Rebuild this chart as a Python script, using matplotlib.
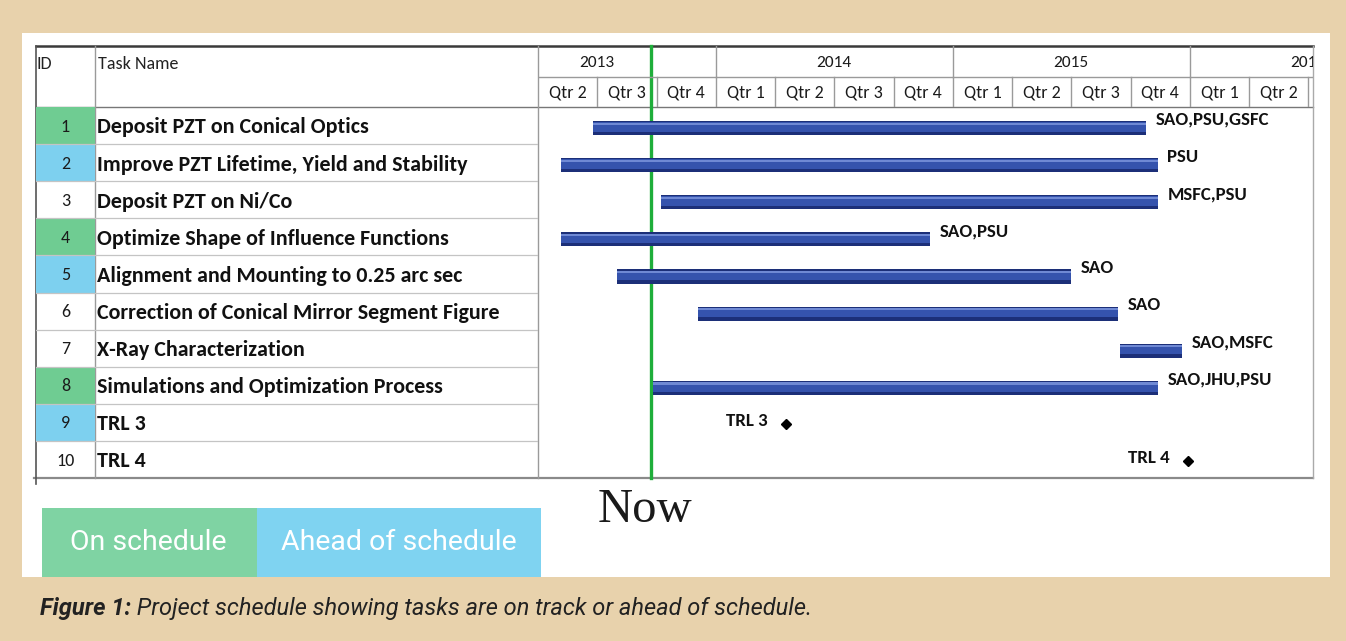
import matplotlib
matplotlib.use("Agg")
import matplotlib.pyplot as plt
import matplotlib.transforms as mtransforms
from matplotlib.patches import Rectangle

# schedule data (fractional years)
task_ids = list(range(1, 11))
task_names = [
    "Deposit PZT on Conical Optics",
    "Improve PZT Lifetime, Yield and Stability",
    "Deposit PZT on Ni/Co",
    "Optimize Shape of Influence Functions",
    "Alignment and Mounting to 0.25 arc sec",
    "Correction of Conical Mirror Segment Figure",
    "X-Ray Characterization",
    "Simulations and Optimization Process",
    "TRL 3",
    "TRL 4",
]
status = ["on", "ahead", None, "on", "ahead", None, None, "on", "ahead", None]
bar_starts = [2013.482, 2013.347, 2013.769, 2013.347, 2013.583, 2013.925, 2015.705, 2013.735]
bar_ends = [2015.815, 2015.865, 2015.865, 2014.904, 2015.498, 2015.697, 2015.967, 2015.865]
resources = ["SAO,PSU,GSFC", "PSU", "MSFC,PSU", "SAO,PSU", "SAO", "SAO", "SAO,MSFC", "SAO,JHU,PSU"]
milestone_rows = [9, 10]
milestone_dates = [2014.296, 2015.992]
milestone_labels = ["TRL 3", "TRL 4"]
now_date = 2013.727
years = [2013, 2014, 2015, 2016]
view_start, view_end = 2013.25, 2016.52

W, H = 1346, 641
BG = "#e8d2ac"
GREEN_CELL = "#6fcc92"
BLUE_CELL = "#7dd0ef"
narrow = ["Carlito", "Lato", "DejaVu Sans"]

fig = plt.figure(figsize=(W / 100, H / 100), dpi=100)
fig.patch.set_facecolor(BG)


def px_axes(x, y, w, h):
    return fig.add_axes([x / W, 1 - (y + h) / H, w / W, h / H])


bg = px_axes(0, 0, W, H)
bg.set_xlim(0, W)
bg.set_ylim(H, 0)
bg.axis("off")
bg.add_patch(Rectangle((22, 33), 1308, 544, facecolor="white", edgecolor="none"))

top, head_mid, head_bot, bot = 46, 78, 107, 478
left, id_right, name_right, right = 36, 95, 538, 1313

# table frame
bg.plot([left, right], [top, top], color="#3a3a3a", lw=1.8)
bg.plot([left, right], [head_bot, head_bot], color="#777777", lw=1.0)
bg.plot([left - 2, right], [bot, bot], color="#8a8a8a", lw=1.6)
bg.plot([left, left], [top, bot + 6], color="#555555", lw=1.2)
for xv in (id_right, name_right):
    bg.plot([xv, xv], [top, bot], color="#9a9a9a", lw=1.0)
bg.plot([right, right], [top, bot], color="#aaaaaa", lw=1.0)
bg.text(left + 1, 64, "ID", fontsize=13, family=narrow, va="center", ha="left", color="#222222")
bg.text(id_right + 3, 64, "Task Name", fontsize=13, family=narrow, va="center", ha="left", color="#222222")

# left table rows
tb = px_axes(left, head_bot, name_right - left, bot - head_bot)
tb.set_xlim(left, name_right)
tb.set_ylim(10.5, 0.5)
tb.axis("off")
for i, name, st in zip(task_ids, task_names, status):
    if st is not None:
        tb.add_patch(Rectangle((left, i - 0.5), id_right - left, 1,
                               facecolor=GREEN_CELL if st == "on" else BLUE_CELL, edgecolor="none"))
    tb.text((left + id_right) / 2, i + 0.03, str(i), ha="center", va="center",
            fontsize=13, family=narrow, color="#1a1a1a")
    tb.text(id_right + 2, i + 0.05, name, ha="left", va="center",
            fontsize=15.8, family=narrow, fontweight="bold", color="#111111")
    if i < 10:
        tb.plot([left, name_right], [i + 0.5, i + 0.5], color="#c4c4c4", lw=0.9)

# timeline header
hx = px_axes(name_right, top, right - name_right, head_bot - top)
hx.set_xlim(view_start, view_end)
hx.set_ylim(2, 0)
hx.axis("off")
hx.plot([view_start, view_end], [1, 1], color="#9a9a9a", lw=1.0)
for yr in years:
    hx.text(yr + 0.5, 0.55, str(yr), ha="center", va="center", fontsize=12.5,
            family=narrow, color="#1a1a1a", clip_on=True)
    hx.plot([yr + 1, yr + 1], [0, 1], color="#9a9a9a", lw=1.0, clip_on=True)
    for q in range(4):
        qs = yr + q / 4
        if qs < view_start - 1e-6 or qs >= view_end:
            continue
        hx.text(qs + 0.125, 1.52, f"Qtr {q + 1}", ha="center", va="center",
                fontsize=13, family=narrow, color="#1a1a1a", clip_on=True)
        hx.plot([qs + 0.25, qs + 0.25], [1, 2], color="#9a9a9a", lw=1.0, clip_on=True)

# gantt bars
ax = px_axes(name_right, head_bot, right - name_right, bot - head_bot)
ax.set_xlim(view_start, view_end)
ax.set_ylim(10.5, 0.5)
ax.axis("off")
rows = task_ids[:len(bar_starts)]
widths = [e - s for s, e in zip(bar_starts, bar_ends)]
ax.barh([r + 0.07 for r in rows], widths, left=bar_starts, height=0.38, color="#1c2f78", zorder=2)
ax.barh([r + 0.04 for r in rows], widths, left=bar_starts, height=0.26, color="#3553ad", zorder=3)
ax.barh([r - 0.05 for r in rows], widths, left=bar_starts, height=0.06, color="#6f89d4", zorder=4)
for r, e, res in zip(rows, bar_ends, resources):
    ax.annotate(res, (e, r), xytext=(7, 4), textcoords="offset points", ha="left", va="center",
                fontsize=13.6, family=narrow, fontweight="bold", color="#111111")
for r, d, lab in zip(milestone_rows, milestone_dates, milestone_labels):
    ax.plot(d, r + 0.05, marker="D", ms=5.5, color="black", zorder=5)
    ax.annotate(lab, (d, r), xytext=(-13, 1), textcoords="offset points", ha="right", va="center",
                fontsize=13.6, family=narrow, fontweight="bold", color="#111111")

# now line
now_tr = mtransforms.blended_transform_factory(ax.transData, bg.transData)
bg.plot([now_date, now_date], [top, bot], color="#1fae3a", lw=2.4, transform=now_tr, zorder=6)
bg.annotate("Now", (now_date, 510), xycoords=now_tr, xytext=(-4, 0), textcoords="offset points",
            ha="center", va="center", fontsize=35, family=["Liberation Serif", "DejaVu Serif"],
            color="#1a1a1a")

# status legend
bg.add_patch(Rectangle((42, 508), 215, 69, facecolor="#7fd3a3", edgecolor="none"))
bg.add_patch(Rectangle((257, 508), 284, 69, facecolor="#7fd3f1", edgecolor="none"))
bg.text(148, 542, "On schedule", ha="center", va="center", fontsize=20.5,
        family=["Roboto", "DejaVu Sans"], color="white")
bg.text(399, 542, "Ahead of schedule", ha="center", va="center", fontsize=20.5,
        family=["Roboto", "DejaVu Sans"], color="white")

# caption
cap = bg.text(40, 609, "Figure 1:", ha="left", va="center", fontsize=17, family=["Roboto", "DejaVu Sans"],
              fontweight="bold", style="italic", color="#222222")
bg.annotate(" Project schedule showing tasks are on track or ahead of schedule.",
            xycoords=cap, xy=(1, 0.5), va="center", ha="left", fontsize=17,
            family=["Roboto", "DejaVu Sans"], style="italic", color="#222222")

fig.savefig("out.png", dpi=100, facecolor=BG)
